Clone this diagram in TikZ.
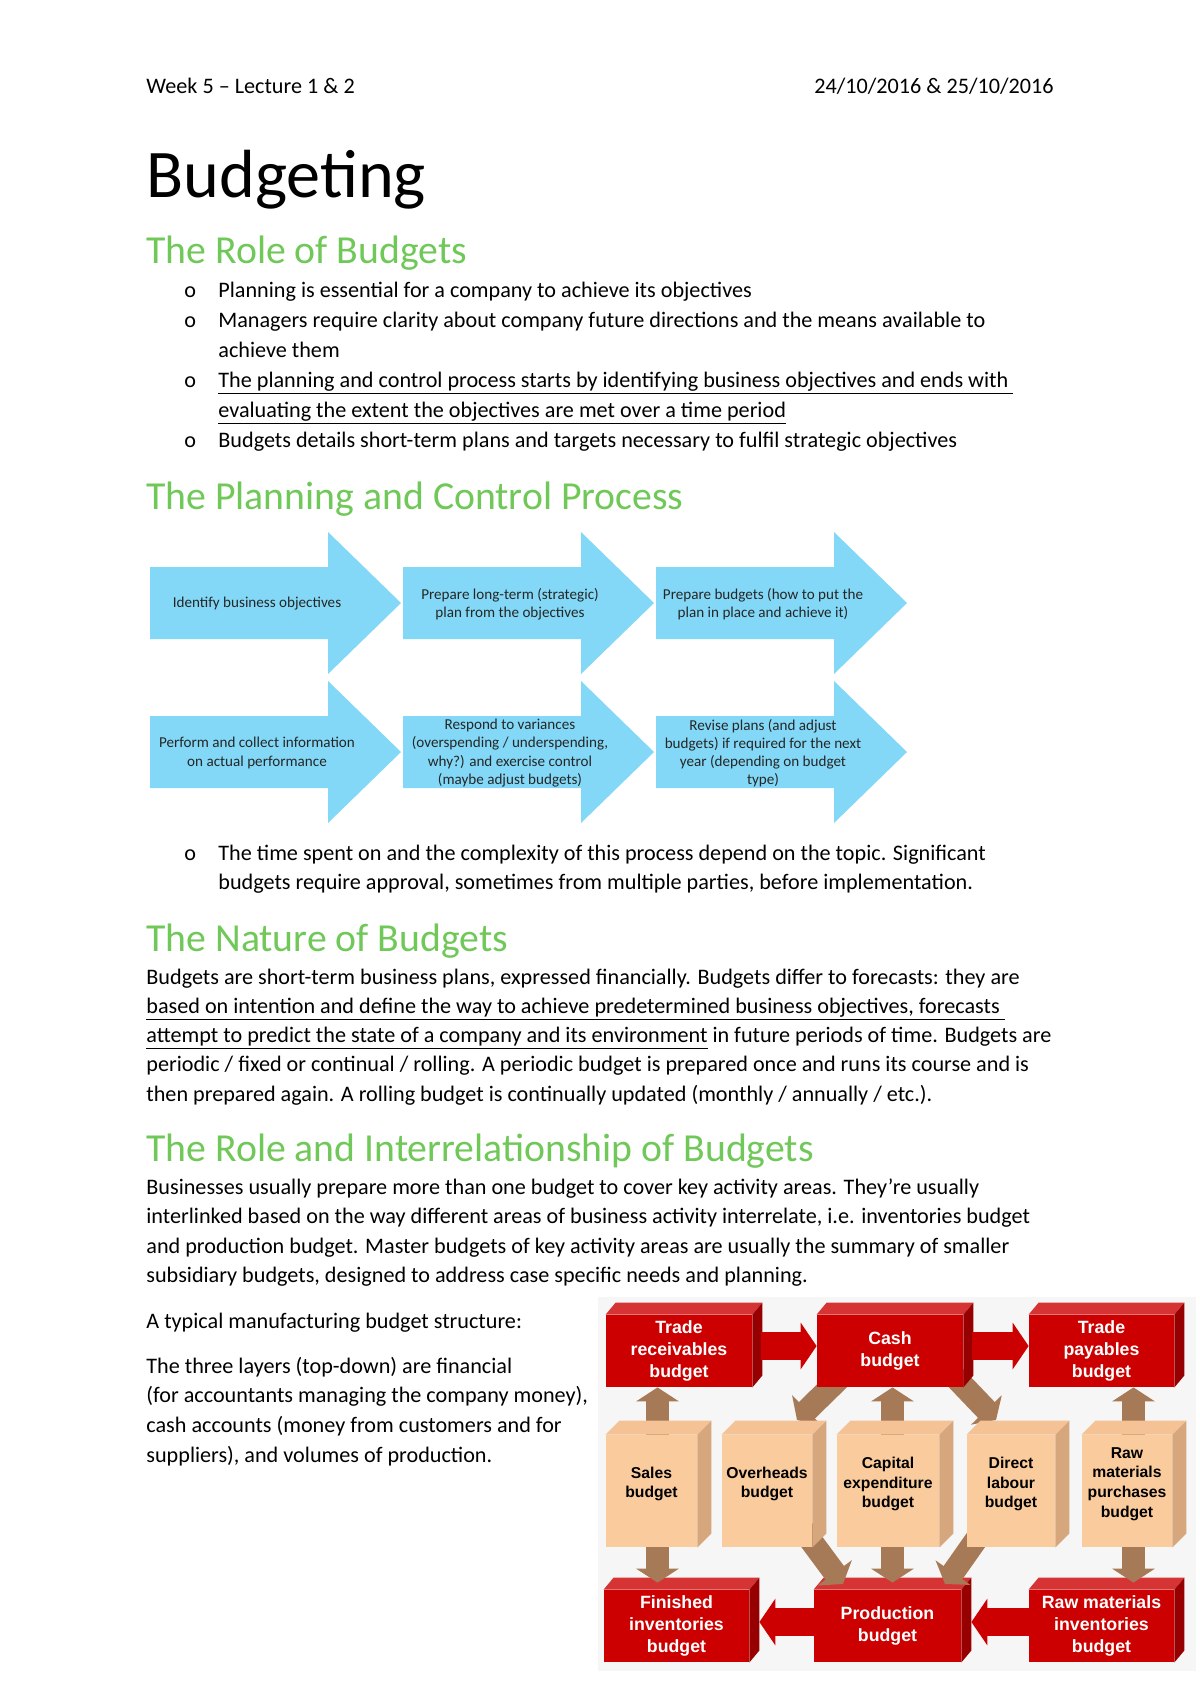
\documentclass[tikz,border=0pt]{standalone}
\usepackage{fontspec}
\setmainfont{Carlito}
\newfontfamily\boxfont{Liberation Sans}
\usetikzlibrary{positioning,calc,arrows.meta}

\newlength{\px}
\setlength{\px}{0.49606pt}

\definecolor{headgreen}{RGB}{112,200,88}
\definecolor{flowcyan}{RGB}{130,216,246}
\definecolor{redfront}{RGB}{204,0,0}
\definecolor{redtop}{RGB}{214,52,52}
\definecolor{redside}{RGB}{150,0,0}
\definecolor{tanfront}{RGB}{250,203,156}
\definecolor{tantop}{RGB}{244,194,148}
\definecolor{tanside}{RGB}{214,166,124}
\definecolor{arrowbrown}{RGB}{166,121,87}
\definecolor{diagbg}{RGB}{246,246,246}

\tikzstyle{bodytext}=[anchor=base west, inner sep=0pt, font=\fontsize{11}{13}\selectfont]
\tikzstyle{titletext}=[anchor=base west, inner sep=0pt, font=\fontsize{33.8}{38}\selectfont]
\tikzstyle{headtext}=[anchor=base west, inner sep=0pt, text=headgreen, font=\fontsize{19.7}{23}\selectfont]
\tikzstyle{flowtext}=[align=center, inner sep=0pt, text=black!85, font=\fontsize{7.5}{9}\selectfont]
\tikzstyle{redbox}=[rectangle, fill=redfront, text=white, inner sep=0pt, minimum height=72\px, align=center, font=\boxfont\bfseries\fontsize{8.8}{10.7}\selectfont]
\tikzstyle{tanbox}=[rectangle, fill=tanfront, inner sep=0pt, minimum height=112\px]
\tikzstyle{tanlabel}=[text=black, inner sep=0pt, yshift=7\px, align=center, font=\boxfont\bfseries\fontsize{7.8}{9.7}\selectfont]
\tikzstyle{redarrow}=[draw=redfront, line width=13.9pt, -{Triangle[length=7.9pt, width=22.8pt]}]
\tikzstyle{tanarrow}=[draw=arrowbrown, line width=11.4pt, -{Triangle[length=6.9pt, width=20.8pt]}]

\tikzset{flowarrow/.pic={
  \fill[flowcyan] (0,-36) -- (178,-36) -- (178,-71) -- (251,0) -- (178,71) -- (178,36) -- (0,36) -- cycle;
}}

\newcommand{\boxfaces}[5]{%
  \fill[#4] (#1.north west) -- ++(#2,#3) -- ($(#1.north east)+(#2,#3)$) -- (#1.north east) -- cycle;
  \fill[#5] (#1.north east) -- ++(#2,#3) -- ($(#1.south east)+(#2,#3)$) -- (#1.south east) -- cycle;}

\begin{document}
\begin{tikzpicture}[x=0.49606pt, y=-0.49606pt]
  \useasboundingbox (0,0) rectangle (1200,1698);
  \fill[white] (0,0) rectangle (1200,1698);

  % header
  \node[bodytext](week) at (146,93) {Week 5 -- Lecture 1 \& 2};
  \node[bodytext, anchor=base east](dates) at (1054,93) {24/10/2016 \& 25/10/2016};

  \node[titletext](title) at (146,197) {Budgeting};

  % role of budgets
  \node[headtext](roleh) at (146,263) {The Role of Budgets};
  \node[bodytext](o1) at (184,297) {o};
  \node[bodytext](b1) at (218,297) {Planning is essential for a company to achieve its objectives};
  \node[bodytext](o2) at (184,327) {o};
  \node[bodytext](b2) at (218,327) {Managers require clarity about company future directions and the means available to};
  \node[bodytext](b2b) at (218,357) {achieve them};
  \node[bodytext](o3) at (184,387) {o};
  \node[bodytext](b3) at (218,387) {\underline{The planning and control process starts by identifying business objectives and ends with\ }};
  \node[bodytext](b3b) at (218,417) {\underline{evaluating the extent the objectives are met over a time period}};
  \node[bodytext](o4) at (184,447) {o};
  \node[bodytext](b4) at (218,447) {Budgets details short-term plans and targets necessary to fulfil strategic objectives};

  % planning and control process
  \node[headtext](planh) at (146,509) {The Planning and Control Process};

  \pic at (150,603) {flowarrow};
  \pic at (403,603) {flowarrow};
  \pic at (656,603) {flowarrow};
  \pic at (150,752) {flowarrow};
  \pic at (403,752) {flowarrow};
  \pic at (656,752) {flowarrow};

  \node[flowtext](identify) at (257,604) {Identify business objectives};
  \node[flowtext](longterm) at (510,604) {Prepare long-term (strategic)\\plan from the objectives};
  \node[flowtext](prepare) at (763,604) {Prepare budgets (how to put the\\plan in place and achieve it)};
  \node[flowtext](perform) at (257,753) {Perform and collect information\\on actual performance};
  \node[flowtext](respond) at (510,753) {Respond to variances\\(overspending / underspending,\\why?) and exercise control\\(maybe adjust budgets)};
  \node[flowtext](revise) at (763,753) {Revise plans (and adjust\\budgets) if required for the next\\year (depending on budget\\type)};

  \node[bodytext](o5) at (184,860) {o};
  \node[bodytext](b5) at (218,860) {The time spent on and the complexity of this process depend on the topic. Significant};
  \node[bodytext](b5b) at (218,889) {budgets require approval, sometimes from multiple parties, before implementation.};

  % nature of budgets
  \node[headtext](natureh) at (146,951) {The Nature of Budgets};
  \node[bodytext](n1) at (146,984) {Budgets are short-term business plans, expressed financially. Budgets differ to forecasts: they are};
  \node[bodytext](n2) at (146,1013) {\underline{based on intention and define the way to achieve predetermined business objectives, forecasts\ }};
  \node[bodytext](n3) at (146,1042) {\underline{attempt to predict the state of a company and its environment} in future periods of time. Budgets are};
  \node[bodytext](n4) at (146,1071) {periodic / fixed or continual / rolling. A periodic budget is prepared once and runs its course and is};
  \node[bodytext](n5) at (146,1101) {then prepared again. A rolling budget is continually updated (monthly / annually / etc.).};

  % interrelationship
  \node[headtext](interh) at (146,1161) {The Role and Interrelationship of Budgets};
  \node[bodytext](i1) at (146,1194) {Businesses usually prepare more than one budget to cover key activity areas. They’re usually};
  \node[bodytext](i2) at (146,1223) {interlinked based on the way different areas of business activity interrelate, i.e. inventories budget};
  \node[bodytext](i3) at (146,1253) {and production budget. Master budgets of key activity areas are usually the summary of smaller};
  \node[bodytext](i4) at (146,1282) {subsidiary budgets, designed to address case specific needs and planning.};

  \node[bodytext](s1) at (146,1328) {A typical manufacturing budget structure:};
  \node[bodytext](s2) at (146,1373) {The three layers (top-down) are financial};
  \node[bodytext](s3) at (146,1402) {(for accountants managing the company money),};
  \node[bodytext](s4) at (146,1432) {cash accounts (money from customers and for};
  \node[bodytext](s5) at (146,1462) {suppliers), and volumes of production.};

  % budget structure
  \fill[diagbg] (598,1297) rectangle (1196,1671);

  \coordinate (cashl) at (843,1375);
  \coordinate (cashr) at (953,1375);
  \draw[tanarrow] (cashl) -- (797,1420);
  \draw[tanarrow] (cashr) -- (996,1420);

  \node[redbox, minimum width=146\px](trec) at (679,1351) {Trade\\receivables\\budget};
  \node[redbox, minimum width=146\px](cash) at (890,1351) {Cash\\budget};
  \node[redbox, minimum width=145\px](tpay) at (1101.5,1351) {Trade\\payables\\budget};
  \node[redbox, minimum width=145\px](finv) at (676.5,1626) {Finished\\inventories\\budget};
  \node[redbox, minimum width=147\px](prod) at (887.5,1626) {Production\\budget};
  \node[redbox, minimum width=145\px](rinv) at (1101.5,1626) {Raw materials\\inventories\\budget};
  \boxfaces{trec}{10}{-12}{redtop}{redside}
  \boxfaces{cash}{10}{-12}{redtop}{redside}
  \boxfaces{tpay}{10}{-12}{redtop}{redside}
  \boxfaces{finv}{10}{-12}{redtop}{redside}
  \boxfaces{prod}{10}{-12}{redtop}{redside}
  \boxfaces{rinv}{10}{-12}{redtop}{redside}

  \draw[redarrow] ([xshift=9\px,yshift=5\px]trec.east) -- ([yshift=5\px]cash.west);
  \draw[redarrow] ([xshift=9\px,yshift=5\px]cash.east) -- ([yshift=5\px]tpay.west);
  \draw[redarrow] ([yshift=4\px]prod.west) -- ([xshift=10\px,yshift=4\px]finv.east);
  \draw[redarrow] ([yshift=4\px]rinv.west) -- ([xshift=10\px,yshift=4\px]prod.east);

  \coordinate (salesx) at (657.5,1491);
  \coordinate (capexx) at (892.5,1491);
  \coordinate (rawpx) at (1133.5,1491);
  \draw[tanarrow] (salesx) -- (salesx |- trec.south);
  \draw[tanarrow] (salesx) -- ([yshift=7\px]salesx |- finv.north);
  \draw[tanarrow] (capexx) -- (capexx |- cash.south);
  \draw[tanarrow] (capexx) -- ([yshift=7\px]capexx |- prod.north);
  \draw[tanarrow] (rawpx) -- (rawpx |- tpay.south);
  \draw[tanarrow] (rawpx) -- ([yshift=7\px]rawpx |- rinv.north);
  \draw[tanarrow] (803,1530) -- (843,1584);
  \draw[tanarrow] (983,1530) -- (945,1584);

  \node[tanbox, minimum width=91\px, label={[tanlabel]center:Sales\\budget}](sales) at (651.5,1491) {};
  \node[tanbox, minimum width=90\px, label={[tanlabel]center:Overheads\\budget}](overh) at (767,1491) {};
  \node[tanbox, minimum width=102\px, label={[tanlabel]center:Capital\\expenditure\\budget}](capex) at (888,1491) {};
  \node[tanbox, minimum width=88\px, label={[tanlabel]center:Direct\\labour\\budget}](dlab) at (1011,1491) {};
  \node[tanbox, minimum width=90\px, label={[tanlabel]center:Raw\\materials\\purchases\\budget}](rawp) at (1127,1491) {};
  \boxfaces{sales}{14}{-14}{tantop}{tanside}
  \boxfaces{overh}{14}{-14}{tantop}{tanside}
  \boxfaces{capex}{14}{-14}{tantop}{tanside}
  \boxfaces{dlab}{14}{-14}{tantop}{tanside}
  \boxfaces{rawp}{14}{-14}{tantop}{tanside}
\end{tikzpicture}
\end{document}
